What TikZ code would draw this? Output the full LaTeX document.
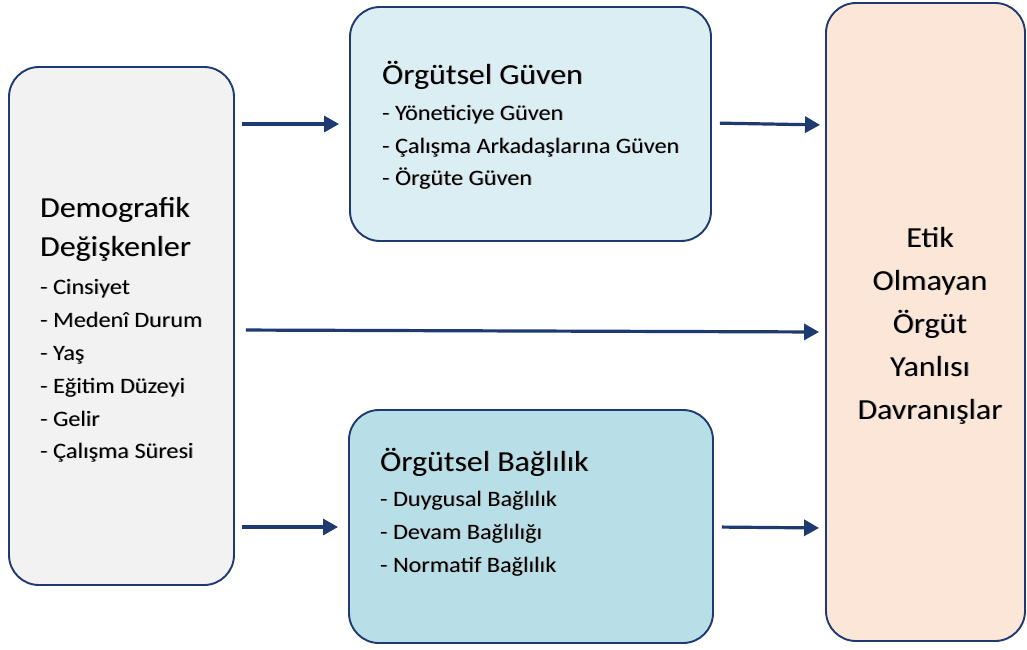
\documentclass[tikz,border=0pt]{standalone}
\usepackage{fontspec}
\setmainfont{Carlito}[FakeStretch=1.1]
\usetikzlibrary{arrows.meta}
\definecolor{navy}{HTML}{1F3A70}
\definecolor{greyfill}{HTML}{F2F2F2}
\definecolor{paleblue}{HTML}{DBEEF3}
\definecolor{midblue}{HTML}{B8DEE8}
\definecolor{peach}{HTML}{FBE6D8}
\definecolor{textshade}{HTML}{A8A8A8}
% text with a soft drop shadow behind it
\newcommand\shadetext[1]{\makebox[0pt][l]{\hspace{0.9pt}\raisebox{-0.9pt}{\textcolor{textshade}{#1}}}#1}
\begin{document}
\begin{tikzpicture}[x=1pt,y=-1pt,
  box/.style={draw=navy,line width=1.9pt,rounded corners=30pt,inner sep=0pt},
  link/.style={draw=navy,line width=3.2pt,-{Triangle[length=15pt,width=16pt]}},
  title/.style={anchor=base west,font=\fontsize{29}{33}\selectfont,inner sep=0pt},
  item/.style={anchor=base west,font=\fontsize{22}{26}\selectfont,inner sep=0pt},
  verb/.style={anchor=base,font=\fontsize{29}{33}\selectfont,inner sep=0pt}]
\useasboundingbox (0,0) rectangle (1027,649);
% boxes
\node[box,fill=greyfill,minimum width=225pt,minimum height=518pt] (demo) at (121.5,326) {};
\node[box,fill=paleblue,minimum width=361pt,minimum height=234pt] (trust) at (530.5,124) {};
\node[box,fill=midblue,minimum width=364pt,minimum height=233pt] (comm) at (531,526.5) {};
\node[box,fill=peach,minimum width=199pt,minimum height=638pt] (upb) at (925.5,322) {};
% demographic variables
\node[title] (d1) at (40,217) {\shadetext{Demografik}};
\node[title] (d2) at (40,256) {\shadetext{Değişkenler}};
\node[item] (d3) at (40,294) {\shadetext{- Cinsiyet}};
\node[item] (d4) at (40,327) {\shadetext{- Medenî Durum}};
\node[item] (d5) at (40,360) {\shadetext{- Yaş}};
\node[item] (d6) at (40,393) {\shadetext{- Eğitim Düzeyi}};
\node[item] (d7) at (40,426) {\shadetext{- Gelir}};
\node[item] (d8) at (40,458) {\shadetext{- Çalışma Süresi}};
% organizational trust
\node[title] (t1) at (382,84) {\shadetext{Örgütsel Güven}};
\node[item] (t2) at (382,120) {\shadetext{- Yöneticiye Güven}};
\node[item] (t3) at (382,153) {\shadetext{- Çalışma Arkadaşlarına Güven}};
\node[item] (t4) at (382,185) {\shadetext{- Örgüte Güven}};
% organizational commitment
\node[title] (c1) at (380,471) {\shadetext{Örgütsel Bağlılık}};
\node[item] (c2) at (380,506) {\shadetext{- Duygusal Bağlılık}};
\node[item] (c3) at (380,539) {\shadetext{- Devam Bağlılığı}};
\node[item] (c4) at (380,572) {\shadetext{- Normatif Bağlılık}};
% unethical pro-organizational behaviour
\node[verb] (u1) at (930,247) {\shadetext{Etik}};
\node[verb] (u2) at (930,290) {\shadetext{Olmayan}};
\node[verb] (u3) at (930,333) {\shadetext{Örgüt}};
\node[verb] (u4) at (930,376) {\shadetext{Yanlısı}};
\node[verb] (u5) at (930,419) {\shadetext{Davranışlar}};
% connectors
\draw[link,shorten <=7pt,shorten >=10pt] (demo.east |- 0,124) -- (trust.west |- 0,124);
\draw[link,shorten <=8pt,shorten >=5pt] (trust.east |- 0,123) -- (upb.west |- 0,125);
\draw[link,shorten <=11pt,shorten >=6pt] (demo.east |- 0,330) -- (upb.west |- 0,332);
\draw[link,shorten <=7pt,shorten >=10pt] (demo.east |- 0,527) -- (comm.west |- 0,527);
\draw[link,shorten <=8pt,shorten >=6pt] (comm.east |- 0,527) -- (upb.west |- 0,528);
\end{tikzpicture}
\end{document}
